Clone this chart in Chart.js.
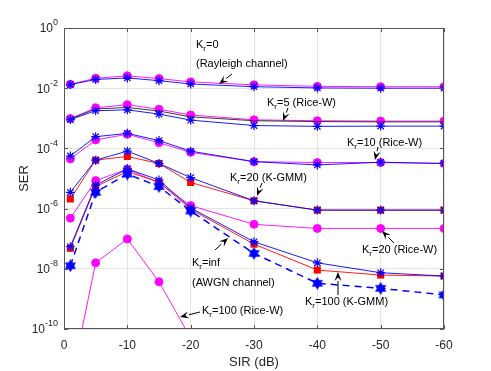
<!DOCTYPE html>
<html>
<head>
<meta charset="utf-8">
<script src="https://cdn.jsdelivr.net/npm/chart.js@4/dist/chart.umd.min.js"></script>
<style>
  body { margin: 0; background: #fff; }
  canvas { display: block; }
</style>
</head>
<body>
<canvas id="ser-chart" width="491" height="371"></canvas>
<script>
// SIR points (dB) and axis ticks
const sir = [-1, -5, -10, -15, -20, -30, -40, -50, -60];
const xTicks = [0, -10, -20, -30, -40, -50, -60];
const yTicks = [1, 1e-2, 1e-4, 1e-6, 1e-8, 1e-10];
const yTickExp = ['0', '-2', '-4', '-6', '-8', '-10'];

// Kr = 0 (Rayleigh)
const kr0RiceW = [1.35e-2, 2.14e-2, 2.57e-2, 2.09e-2, 1.62e-2, 1.29e-2, 1.15e-2, 1.12e-2, 1.12e-2];
const kr0KGmm = [1.32e-2, 1.95e-2, 2.19e-2, 1.78e-2, 1.38e-2, 1.12e-2, 1.02e-2, 1.0e-2, 1.0e-2];
// Kr = 5
const kr5RiceW = [9.8e-4, 2.24e-3, 2.82e-3, 2.0e-3, 1.29e-3, 8.9e-4, 8.3e-4, 8.1e-4, 8.1e-4];
const kr5Exact = [9.5e-4, 2.04e-3, 2.29e-3, 1.74e-3, 1.12e-3, 8.3e-4, 7.8e-4, 7.6e-4, 7.6e-4];
const kr5KGmm = [9.1e-4, 1.78e-3, 1.91e-3, 1.38e-3, 8.7e-4, 5.75e-4, 5.4e-4, 5.5e-4, 5.5e-4];
// Kr = 10
const kr10RiceW = [4.47e-5, 1.91e-4, 2.95e-4, 1.55e-4, 7.4e-5, 3.63e-5, 3.39e-5, 3.39e-5, 3.16e-5];
const kr10KGmm = [5.6e-5, 2.45e-4, 3.16e-4, 1.82e-4, 8.1e-5, 3.63e-5, 2.82e-5, 3.47e-5, 3.16e-5];
// Kr = 20
const kr20KGmm = [3.47e-6, 4.07e-5, 8.1e-5, 3.16e-5, 1.07e-5, 1.82e-6, 8.9e-7, 8.9e-7, 8.9e-7];
const kr20Sim = [2.09e-6, 4.07e-5, 5.4e-5, 3.16e-5, 7.4e-6, 1.82e-6, 8.9e-7, 8.9e-7, 8.9e-7];
const kr20RiceW = [4.8e-7, 8.5e-6, 2.04e-5, 7.1e-6, 1.26e-6, 3.0e-7, 2.19e-7, 2.19e-7, 2.19e-7];
// Kr = 100
const kr100KGmm = [5.4e-8, 6.0e-6, 2.09e-5, 8.9e-6, 1.05e-6, 7.9e-8, 1.58e-8, 7.4e-9, 5.75e-9];
const kr100Sim = [4.8e-8, 5.4e-6, 1.7e-5, 7.6e-6, 9.5e-7, 6.6e-8, 9.1e-9, 6.2e-9, 5.75e-9];
const kr100RiceW = [1.3e-12, 1.58e-8, 9.8e-8, 3.7e-9, 5e-11, null, null, null, null];
// Kr = inf (AWGN)
const krInf = [1.26e-8, 3.47e-6, 1.41e-5, 5.4e-6, 8.3e-7, 3.24e-8, 3.3e-9, 2.24e-9, 1.35e-9];

const FONT = '"Liberation Sans", Arial, sans-serif';
const BLUE = '#0000ff';
const MAGENTA = '#ff00ff';
const RED = '#ff0000';

function hexagram(size, color) {
  const c = document.createElement('canvas');
  c.width = size; c.height = size;
  const g = c.getContext('2d');
  const r = size / 2;
  g.fillStyle = color;
  [0, Math.PI].forEach(rot => {
    g.beginPath();
    for (let i = 0; i < 3; i++) {
      const a = rot - Math.PI / 2 + i * 2 * Math.PI / 3;
      const px = r + r * Math.cos(a), py = r + r * Math.sin(a);
      if (i === 0) g.moveTo(px, py); else g.lineTo(px, py);
    }
    g.closePath();
    g.fill();
  });
  return c;
}
const hexStar = hexagram(13, BLUE);

function pts(values) {
  return sir.map((x, i) => ({ x, y: values[i] }));
}

function kgmm(values) {
  return { data: pts(values), borderColor: BLUE, borderWidth: 0.9, pointStyle: 'star',
    pointRadius: 4.5, pointBorderColor: BLUE, pointBorderWidth: 1.2, pointBackgroundColor: BLUE };
}
function riceW(values) {
  return { data: pts(values), borderColor: MAGENTA, borderWidth: 0.9, pointStyle: 'circle',
    pointRadius: 4, pointBackgroundColor: MAGENTA, pointBorderColor: MAGENTA, spanGaps: false };
}
function sim(values) {
  return { data: pts(values), borderColor: RED, borderWidth: 0.9, pointStyle: 'rect',
    pointRadius: 5, pointBackgroundColor: RED, pointBorderColor: RED, pointBorderWidth: 0 };
}

// first datasets end up on top
const datasets = [
  { data: pts(krInf), borderColor: BLUE, borderWidth: 1.5, borderDash: [7, 5], pointStyle: hexStar },
  kgmm(kr0KGmm), kgmm(kr5KGmm), kgmm(kr10KGmm), kgmm(kr20KGmm), kgmm(kr100KGmm),
  sim(kr20Sim), sim(kr100Sim),
  { data: pts(kr5Exact), borderColor: '#222', borderWidth: 0.9, pointRadius: 0 },
  riceW(kr0RiceW), riceW(kr5RiceW), riceW(kr10RiceW), riceW(kr20RiceW), riceW(kr100RiceW)
];

// text annotations: [pieces, left, y] and arrows [x1, y1, x2(head), y2(head)]
const labels = [
  [['K', 'r', '=0'], 196, 45],
  [['(Rayleigh channel)'], 196, 64],
  [['K', 'r', '=5 (Rice-W)'], 267, 103],
  [['K', 'r', '=10 (Rice-W)'], 347, 143],
  [['K', 'r', '=20 (K-GMM)'], 230, 178],
  [['K', 'r', '=20 (Rice-W)'], 362, 250],
  [['K', 'r', '=inf'], 192, 263],
  [['(AWGN channel)'], 192, 283],
  [['K', 'r', '=100 (K-GMM)'], 305, 302],
  [['K', 'r', '=100 (Rice-W)'], 202, 311]
];
const arrows = [
  [232, 74, 219, 84],
  [288, 108, 283, 121],
  [378, 147, 375, 160],
  [262, 183, 257, 196],
  [394, 243, 382, 231],
  [215, 250, 228, 238],
  [338, 295, 338, 272],
  [200, 312, 180, 317]
];

const decorations = {
  id: 'decorations',
  afterDraw(chart) {
    const ctx = chart.ctx;
    const a = chart.chartArea;
    const xs = chart.scales.x, ys = chart.scales.y;
    ctx.save();
    // box and inward ticks
    ctx.strokeStyle = '#555';
    ctx.lineWidth = 1;
    ctx.strokeRect(a.left + 0.5, a.top + 0.5, a.right - a.left - 1, a.bottom - a.top - 1);
    ctx.beginPath();
    xTicks.forEach(v => {
      const px = Math.round(xs.getPixelForValue(v)) + 0.5;
      ctx.moveTo(px, a.bottom); ctx.lineTo(px, a.bottom - 4);
      ctx.moveTo(px, a.top); ctx.lineTo(px, a.top + 4);
    });
    yTicks.forEach(v => {
      const py = Math.round(ys.getPixelForValue(v)) + 0.5;
      ctx.moveTo(a.left, py); ctx.lineTo(a.left + 4, py);
      ctx.moveTo(a.right, py); ctx.lineTo(a.right - 4, py);
    });
    ctx.stroke();

    // y tick labels 10^n
    ctx.fillStyle = '#262626';
    ctx.textBaseline = 'middle';
    yTicks.forEach((v, i) => {
      const py = ys.getPixelForValue(v);
      ctx.font = '12px ' + FONT;
      const wBase = ctx.measureText('10').width;
      ctx.font = '9px ' + FONT;
      const wExp = ctx.measureText(yTickExp[i]).width;
      const left = a.left - 6 - wBase - wExp;
      ctx.font = '12px ' + FONT;
      ctx.textAlign = 'left';
      ctx.fillText('10', left, py + 1);
      ctx.font = '9px ' + FONT;
      ctx.fillText(yTickExp[i], left + wBase, py - 5);
    });

    // axis titles
    ctx.font = '13px ' + FONT;
    ctx.textAlign = 'center';
    ctx.fillText('SIR (dB)', (a.left + a.right) / 2, 362);
    ctx.save();
    ctx.translate(24, (a.top + a.bottom) / 2);
    ctx.rotate(-Math.PI / 2);
    ctx.fillText('SER', 0, 0);
    ctx.restore();

    // annotations
    ctx.fillStyle = '#000';
    ctx.textAlign = 'left';
    labels.forEach(([pieces, x, y]) => {
      let cx = x;
      pieces.forEach((t, i) => {
        const isSub = pieces.length > 1 && i === 1;
        ctx.font = (isSub ? '8px ' : '11px ') + FONT;
        ctx.fillText(t, cx, isSub ? y + 4 : y);
        cx += ctx.measureText(t).width;
      });
    });
    ctx.strokeStyle = '#000';
    ctx.lineWidth = 1;
    arrows.forEach(([x1, y1, x2, y2]) => {
      const ang = Math.atan2(y2 - y1, x2 - x1);
      const hl = 9, hw = 3.5;
      const bx = x2 - hl * Math.cos(ang), by = y2 - hl * Math.sin(ang);
      ctx.beginPath();
      ctx.moveTo(x1, y1); ctx.lineTo(bx, by);
      ctx.stroke();
      ctx.beginPath();
      ctx.moveTo(x2, y2);
      ctx.lineTo(bx + hw * Math.sin(ang), by - hw * Math.cos(ang));
      ctx.lineTo(x2 - 0.6 * hl * Math.cos(ang), y2 - 0.6 * hl * Math.sin(ang));
      ctx.lineTo(bx - hw * Math.sin(ang), by + hw * Math.cos(ang));
      ctx.closePath();
      ctx.fill();
    });
    ctx.restore();
  }
};

new Chart(document.getElementById('ser-chart').getContext('2d'), {
  type: 'line',
  data: { datasets },
  options: {
    responsive: false,
    animation: false,
    devicePixelRatio: 1,
    layout: { padding: { top: 28, right: 47, bottom: 0, left: 0 } },
    plugins: { legend: { display: false }, tooltip: { enabled: false } },
    scales: {
      x: {
        type: 'linear',
        reverse: true,
        min: -60,
        max: 0,
        afterBuildTicks: axis => { axis.ticks = xTicks.map(v => ({ value: v })); },
        afterFit: s => { s.height = 42; },
        grid: { color: '#e4e4e4', tickLength: 0 },
        border: { display: false },
        ticks: { color: '#262626', font: { family: FONT, size: 12 }, padding: 9, maxRotation: 0,
          callback: v => String(v) }
      },
      y: {
        type: 'logarithmic',
        min: 1e-10,
        max: 1,
        afterBuildTicks: axis => { axis.ticks = yTicks.map(v => ({ value: v })); },
        afterFit: s => { s.width = 64; },
        grid: { color: '#e4e4e4', tickLength: 0 },
        border: { display: false },
        ticks: { display: false }
      }
    }
  },
  plugins: [decorations]
});
</script>
</body>
</html>
